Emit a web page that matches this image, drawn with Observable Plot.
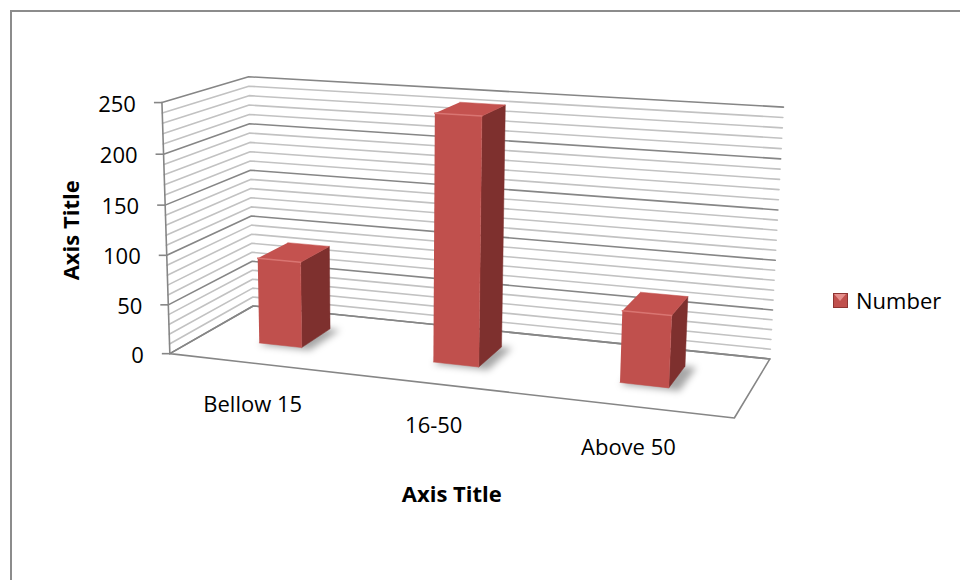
<!DOCTYPE html>
<html><head><meta charset="utf-8">
<script src="https://cdn.jsdelivr.net/npm/d3@7"></script>
<script src="https://cdn.jsdelivr.net/npm/@observablehq/plot@0.6"></script>
<style>
html,body{margin:0;padding:0;background:#fff;overflow:hidden;}
#frame{position:absolute;left:10px;top:10px;width:1000px;height:1000px;border-left:2px solid #8c8c8c;border-top:2px solid #8c8c8c;}
#chart{position:absolute;left:0;top:0;}
#legend{position:absolute;left:833px;top:285px;font:22px 'Open Sans',sans-serif;color:#000;display:flex;align-items:center;gap:8px;}
#legend .sw{width:15px;height:15px;background:#c0504d;position:relative;overflow:hidden;box-shadow:inset 0 0 0 1px #8e3432;}
#legend .sw:before{content:"";position:absolute;left:1px;top:1px;border-left:6.5px solid transparent;border-right:6.5px solid transparent;border-top:7px solid #e58f8c;}
</style></head><body>
<div id="frame"></div><div id="chart"></div>
<div id="legend"><span class="sw"></span><span id="legname"></span></div>
<script>
// ---- data ----
const categories = ["Bellow 15", "16-50", "Above 50"];
const values = [88, 245, 70];
const seriesName = "Number";
const yTicks = [0, 50, 100, 150, 200, 250];
const minorStep = 10;
const yMax = 250;
const xTitle = "Axis Title";
const yTitle = "Axis Title";

// ---- 3D projection calibration (world u,v(0..1),w -> screen) ----
const calib = [
  [[0,0,0],[171,351]], [[0,1,0],[159,103]], [[0,0.6,0],[164,205]], [[0,0.2,0],[169,303]],
  [[0,0,1],[250,309]], [[0,1,1],[250,76]], [[0,0.8,1],[250,122]],
  [[1,0,1],[770,356]], [[1,1,1],[783,107]], [[1,0.8,1],[780,159]], [[1,0.4,1],[774,259]],
  [[1,0,0],[734,420]]
];
function fitCamera(pairs){
  const S = 100, n = 11;
  const M = Array.from({length:n}, () => new Array(n+1).fill(0));
  const add = (row, b) => { for (let i=0;i<n;i++){ for (let j=0;j<n;j++) M[i][j]+=row[i]*row[j]; M[i][n]+=row[i]*b; } };
  for (const [[X,Y,Z],[x0,y0]] of pairs){
    const x = x0/S, y = y0/S;
    add([X,Y,Z,1,0,0,0,0,-x*X,-x*Y,-x*Z], x);
    add([0,0,0,0,X,Y,Z,1,-y*X,-y*Y,-y*Z], y);
  }
  for (let c=0;c<n;c++){
    let piv=c; for (let r=c+1;r<n;r++) if (Math.abs(M[r][c])>Math.abs(M[piv][c])) piv=r;
    [M[c],M[piv]]=[M[piv],M[c]];
    for (let r=0;r<n;r++){ if (r===c) continue; const f=M[r][c]/M[c][c]; for (let k=c;k<=n;k++) M[r][k]-=f*M[c][k]; }
  }
  const p = M.map((row,i)=>row[n]/row[i]);
  return (u, v, w) => {
    const Y = v / yMax;
    const d = p[8]*u + p[9]*Y + p[10]*w + 1;
    return [S*(p[0]*u+p[1]*Y+p[2]*w+p[3])/d, S*(p[4]*u+p[5]*Y+p[6]*w+p[7])/d];
  };
}
const proj = fitCamera(calib);
const P = (u,v,w,extra={}) => { const [x,y]=proj(u,v,w); return {x,y,...extra}; };

// ---- geometry derived from data ----
const nCat = categories.length;
const barHalf = 0.25 / nCat / 2;   // gap width 300%
const barShift = -0.006;
const w0 = 0.34, w1 = 0.72;
const floor = [[0,0,0],[1,0,0],[1,0,1],[0,0,1],[0,0,0]].map(([u,v,w])=>P(u,v,w));
const gridVals = d3.range(0, yMax + 1, minorStep);
const grid = gridVals.flatMap(v => [[0,v,0],[0,v,1],[1,v,1]].map(([u,vv,w]) => P(u,vv,w,{v, major: yTicks.includes(v)})));
const axisLine = [P(0,0,0), P(0,yMax,0)];
const tickPts = yTicks.map(v => P(0,v,0,{label:String(v)}));
const faces = {front:[], side:[], top:[], shadow:[]};
values.forEach((val,i) => {
  const uc = (i+0.5)/nCat + barShift, a = uc-barHalf, b = uc+barHalf;
  faces.shadow.push(...[[a+0.004,0,w0-0.03],[b+0.02,0,w0-0.03],[b+0.02,0,w1],[a+0.004,0,w1]].map(([u,v,w])=>P(u,v,w,{i})));
  faces.front.push(...[[a,0,w0],[b,0,w0],[b,val,w0],[a,val,w0]].map(([u,v,w])=>P(u,v,w,{i})));
  faces.side.push(...[[b,0,w0],[b,0,w1],[b,val,w1],[b,val,w0]].map(([u,v,w])=>P(u,v,w,{i})));
  faces.top.push(...[[a,val,w0],[b,val,w0],[b,val,w1],[a,val,w1]].map(([u,v,w])=>P(u,v,w,{i})));
});
const topEdge = values.flatMap((val,i)=>{ const uc=(i+0.5)/nCat+barShift; return [P(uc-barHalf,val,w0,{i}),P(uc+barHalf,val,w0,{i})]; });
const catLabels = categories.map((c,i) => P((i+0.5)/nCat, 0, 0, {label:c}));
const xTitlePos = [P(0.5,0,0,{label:xTitle})];
const yTitlePos = [P(0,yMax/2,0,{label:yTitle})];

const W = 960, H = 580, FS = 22;
const chart = Plot.plot({
  width: W, height: H, margin: 0,
  x: {type:"linear", domain:[0,W], range:[0,W], axis:null},
  y: {type:"linear", domain:[0,H], range:[0,H], axis:null},
  style: {fontFamily:"'Open Sans', sans-serif", background:"transparent", color:"#000"},
  marks: [
    Plot.line(floor, {x:"x", y:"y", fill:"#fff", stroke:"#868686", strokeWidth:1.6}),
    Plot.line(grid.filter(d=>!d.major), {x:"x", y:"y", z:"v", stroke:"#c2c2c2", strokeWidth:1.6}),
    Plot.line(grid.filter(d=>d.major), {x:"x", y:"y", z:"v", stroke:"#868686", strokeWidth:1.6}),
    Plot.line(axisLine, {x:"x", y:"y", stroke:"#868686", strokeWidth:1.6}),
    Plot.line(faces.shadow, {x:"x", y:"y", z:"i", fill:"#000", fillOpacity:0.35, stroke:"none"}),
    Plot.link(tickPts, {x1:"x", y1:"y", x2:d=>d.x-8, y2:"y", stroke:"#868686", strokeWidth:1.6}),
    Plot.text(tickPts, {x:"x", y:"y", text:"label", dx:-26, dy:2, textAnchor:"end", fontSize:FS}),
    Plot.line(faces.side, {x:"x", y:"y", z:"i", fill:"#7e302e", stroke:"#7e302e", strokeWidth:0.5}),
    Plot.line(faces.top, {x:"x", y:"y", z:"i", fill:"#c4524f", stroke:"#c4524f", strokeWidth:0.5}),
    Plot.line(faces.front, {x:"x", y:"y", z:"i", fill:"#c0504d", stroke:"#c0504d", strokeWidth:0.5}),
    Plot.line(topEdge, {x:"x", y:"y", z:"i", stroke:"#d97572", strokeWidth:1.5}),
    Plot.text(catLabels, {x:"x", y:"y", text:"label", dx:-3, dy:42, fontSize:FS}),
    Plot.text(xTitlePos, {x:"x", y:"y", text:"label", dx:15, dy:111, fontSize:FS, fontWeight:"bold"}),
    Plot.text(yTitlePos, {x:"x", y:"y", text:"label", dx:-94, rotate:-90, fontSize:FS, fontWeight:"bold"})
  ]
});
// soft blur for the bar shadows (the fifth line mark)
const ns = "http://www.w3.org/2000/svg";
const defs = document.createElementNS(ns, "defs");
const filt = document.createElementNS(ns, "filter");
filt.setAttribute("id", "soft"); filt.setAttribute("x", "-50%"); filt.setAttribute("y", "-50%");
filt.setAttribute("width", "200%"); filt.setAttribute("height", "200%");
const blur = document.createElementNS(ns, "feGaussianBlur");
blur.setAttribute("stdDeviation", "3.5");
filt.append(blur); defs.append(filt); chart.prepend(defs);
const lineGroups = chart.querySelectorAll('g[aria-label="line"]');
if (lineGroups[4]) lineGroups[4].setAttribute("filter", "url(#soft)");
document.getElementById("chart").append(chart);
document.getElementById("legname").textContent = seriesName;
</script>
</body></html>
